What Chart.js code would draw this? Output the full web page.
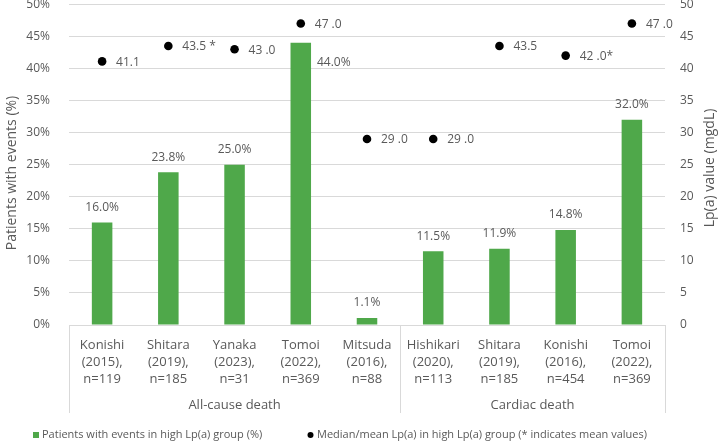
<!DOCTYPE html>
<html>
<head>
<meta charset="utf-8">
<script src="https://cdn.jsdelivr.net/npm/chart.js@4"></script>
<style>
  body { margin: 0; background: #fff; }
  #wrap { width: 719px; height: 441px; }
</style>
</head>
<body>
<div id="wrap"><canvas id="chart" width="719" height="441"></canvas></div>
<script>
// data
const studies = [
  ["Konishi", "(2015),", "n=119"],
  ["Shitara", "(2019),", "n=185"],
  ["Yanaka", "(2023),", "n=31"],
  ["Tomoi", "(2022),", "n=369"],
  ["Mitsuda", "(2016),", "n=88"],
  ["Hishikari", "(2020),", "n=113"],
  ["Shitara", "(2019),", "n=185"],
  ["Konishi", "(2016),", "n=454"],
  ["Tomoi", "(2022),", "n=369"]
]
const eventPct = [16.0, 23.8, 25.0, 44.0, 1.1, 11.5, 11.9, 14.8, 32.0]
const lpaValue = [41.1, 43.5, 43.0, 47.0, 29.0, 29.0, 43.5, 42.0, 47.0]
const lpaText = ["41.1", "43.5 *", "43 .0", "47 .0", "29 .0", "29 .0", "43.5", "42 .0*", "47 .0"]
const groups = [["All-cause death", 0, 4], ["Cardiac death", 5, 8]]
const axisTicks = [0, 5, 10, 15, 20, 25, 30, 35, 40, 45, 50]
const leftTitle = "Patients with events (%)"
const rightTitle = "Lp(a) value (mgdL)"
const legendItems = ["Patients with events in high Lp(a) group (%)", "Median/mean Lp(a) in high Lp(a) group (* indicates mean values)"]

const FONT = "'Open Sans', sans-serif"
const GREY = "#595959"
const GREEN = "#4fa84a"

function vText(ctx, txt, x, y) {
  ctx.save()
  ctx.translate(x, y)
  ctx.rotate(-Math.PI / 2)
  ctx.fillText(txt, 0, 0)
  ctx.restore()
}

const labelsPlugin = {
  id: "labels",
  afterDatasetsDraw(chart) {
    const ctx = chart.ctx
    const bars = chart.getDatasetMeta(0).data
    const dots = chart.getDatasetMeta(1).data
    ctx.save()
    ctx.font = "12px " + FONT
    ctx.fillStyle = GREY
    ctx.textBaseline = "middle"
    bars.forEach((b, i) => {
      let txt = eventPct[i].toFixed(1) + "%"
      ctx.textAlign = "center"
      if (i == 3) {
        // this one sits beside the bar in the original
        ctx.fillText(txt, b.x + 33, b.y + 20)
      } else {
        ctx.fillText(txt, b.x, b.y - 15)
      }
    })
    ctx.textAlign = "left"
    dots.forEach((p, i) => {
      ctx.fillText(lpaText[i], p.x + 14, p.y + 1)
    })
    ctx.restore()
  },
  afterDraw(chart) {
    const ctx = chart.ctx
    const x = chart.scales.x
    const area = chart.chartArea
    ctx.save()
    // group separators
    ctx.strokeStyle = "#d9d9d9"
    ctx.lineWidth = 1
    const cuts = [0, 5, 9].map(k => area.left + k * (area.right - area.left) / 9)
    cuts.forEach(cx => {
      ctx.beginPath()
      ctx.moveTo(Math.round(cx) + 0.5, area.bottom)
      ctx.lineTo(Math.round(cx) + 0.5, area.bottom + 88)
      ctx.stroke()
    })
    ctx.font = "13px " + FONT
    ctx.fillStyle = GREY
    ctx.textAlign = "center"
    ctx.textBaseline = "middle"
    groups.forEach(g => {
      const mid = (x.getPixelForValue(g[1]) + x.getPixelForValue(g[2])) / 2
      ctx.fillText(g[0], mid, area.bottom + 80)
    })
    // axis titles
    ctx.font = "14px " + FONT
    vText(ctx, leftTitle, 12, 173)
    vText(ctx, rightTitle, 710, 168)
    // legend
    ctx.font = "11px " + FONT
    ctx.textAlign = "left"
    ctx.fillStyle = GREEN
    ctx.fillRect(33, 432, 6, 6)
    ctx.fillStyle = GREY
    ctx.fillText(legendItems[0], 42, 435)
    ctx.fillStyle = "#000"
    ctx.beginPath()
    ctx.arc(310.5, 435, 3, 0, Math.PI * 2)
    ctx.fill()
    ctx.fillStyle = GREY
    ctx.fillText(legendItems[1], 317, 435)
    ctx.restore()
  }
}

new Chart(document.querySelector("#chart"), {
  data: {
    labels: studies,
    datasets: [
      {
        type: "bar",
        label: legendItems[0],
        data: eventPct,
        backgroundColor: GREEN,
        yAxisID: "y",
        categoryPercentage: 1,
        barPercentage: 0.31,
        order: 2
      },
      {
        type: "line",
        label: legendItems[1],
        data: lpaValue,
        showLine: false,
        pointRadius: 4.3,
        pointBackgroundColor: "#000",
        pointBorderWidth: 0,
        yAxisID: "y2",
        order: 1
      }
    ]
  },
  options: {
    responsive: false,
    animation: false,
    layout: { padding: { top: 4, bottom: 0, left: 0, right: 0 } },
    plugins: { legend: { display: false }, tooltip: { enabled: false } },
    scales: {
      x: {
        grid: { display: false },
        border: { display: true, color: "#d9d9d9" },
        ticks: { color: GREY, font: { family: FONT, size: 13, lineHeight: 1.3 }, padding: 4, maxRotation: 0, autoSkip: false },
        afterFit(s) { s.height = 116 }
      },
      y: {
        position: "left",
        min: 0, max: 50,
        afterBuildTicks(s) { s.ticks = axisTicks.map(v => ({ value: v })) },
        grid: { color: "#d9d9d9", drawTicks: false },
        border: { display: false },
        ticks: { color: GREY, font: { family: FONT, size: 12 }, padding: 19, callback: v => v + "%" },
        afterFit(s) { s.width = 69; s.paddingTop = 0; s.paddingBottom = 0 }
      },
      y2: {
        position: "right",
        min: 0, max: 50,
        afterBuildTicks(s) { s.ticks = axisTicks.map(v => ({ value: v })) },
        grid: { display: false, drawTicks: false },
        border: { display: false },
        ticks: { color: GREY, font: { family: FONT, size: 12 }, padding: 15 },
        afterFit(s) { s.width = 54; s.paddingTop = 0; s.paddingBottom = 0 }
      }
    }
  },
  plugins: [labelsPlugin]
})
</script>
</body>
</html>
